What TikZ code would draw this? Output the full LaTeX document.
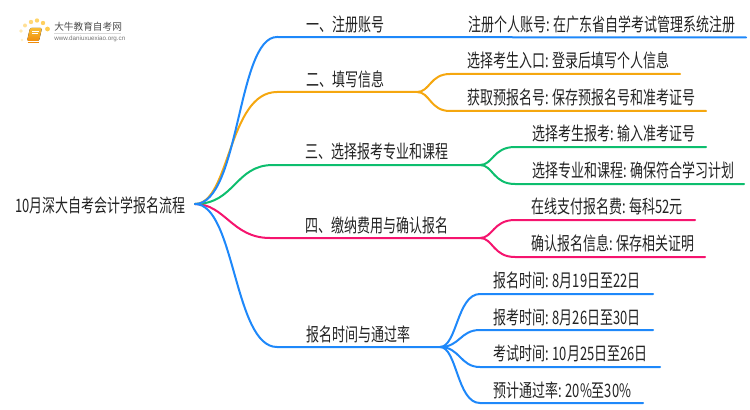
\documentclass[tikz,border=0pt]{standalone}
\usepackage{fontspec}
\setmainfont{Noto Sans CJK SC}
\newfontfamily\latinf{Liberation Sans}
\definecolor{cblue}{HTML}{1E88FA}
\definecolor{corange}{HTML}{F5A70F}
\definecolor{cgreen}{HTML}{0DBE6E}
\definecolor{cpink}{HTML}{F5146E}
\definecolor{ctext}{HTML}{222222}
\definecolor{booktop}{HTML}{F8BE35}
\definecolor{bookbot}{HTML}{F08C0A}
\newcommand{\squeezed}[1]{\scalebox{0.70}[1]{\fontsize{13.9pt}{16pt}\selectfont #1}}
\tikzset{
  lab/.style={anchor=west,inner sep=0pt,text=ctext},
  wire/.style={line width=1.5pt,line cap=round}
}
\begin{document}
\begin{tikzpicture}[x=0.75pt,y=-0.75pt]
\useasboundingbox (0,0) rectangle (750,410);
% logo
\foreach \px/\py/\rr/\c in {22/40/1.4/FFF0C8,21/31/1.8/FFE9B0,25/25.5/2/FFDF95,31/22/2.2/FFD878,37/20.5/2.2/FFD468,43/23/2.2/FFD060,47.5/29/2.4/FFCC50}{
  \definecolor{tmpc}{HTML}{\c}
  \fill[tmpc] (\px,\py) circle[radius=\rr*0.75pt];
}
\fill[rounded corners=1pt,top color=booktop,bottom color=bookbot] (30,28) -- (42,28) -- (39,41) -- (27,41) -- cycle;
\draw[bookbot,line width=0.5pt] (27.5,42) -- (38.5,42);
\draw[white,line width=0.5pt] (32,31) -- (38.5,31) (31.5,33.5) -- (38,33.5);
\node[anchor=west,inner sep=0pt,text=black!70] (logoa) at (54,27) {\scalebox{0.98}[1]{\fontsize{7.4pt}{9pt}\selectfont 大牛教育自考网}};
\draw[black!15,line width=0.4pt] (54,33.5) -- (121,33.5);
\node[anchor=west,inner sep=0pt,text=black!55] (logob) at (54,38.8) {\fontsize{4.7pt}{6pt}\selectfont\latinf www.daniuxuexiao.org.cn};
% texts
\node[lab] (root) at (15,205) {\squeezed{10月深大自考会计学报名流程}};
\node[lab] (t1) at (306,24) {\squeezed{一、注册账号}};
\node[lab] (t2) at (306,79) {\squeezed{二、填写信息}};
\node[lab] (t3) at (305,151) {\squeezed{三、选择报考专业和课程}};
\node[lab] (t4) at (305,225) {\squeezed{四、缴纳费用与确认报名}};
\node[lab] (t5) at (306,334) {\squeezed{报名时间与通过率}};
\node[lab] (a1) at (468,24) {\squeezed{注册个人账号: 在广东省自学考试管理系统注册}};
\node[lab] (b1) at (467,60) {\squeezed{选择考生入口: 登录后填写个人信息}};
\node[lab] (b2) at (467,97) {\squeezed{获取预报名号: 保存预报名号和准考证号}};
\node[lab] (c1) at (532,133) {\squeezed{选择考生报考: 输入准考证号}};
\node[lab] (c2) at (532,170) {\squeezed{选择专业和课程: 确保符合学习计划}};
\node[lab] (d1) at (531,206) {\squeezed{在线支付报名费: 每科52元}};
\node[lab] (d2) at (531,243) {\squeezed{确认报名信息: 保存相关证明}};
\node[lab] (e1) at (493,280) {\squeezed{报名时间: 8月19日至22日}};
\node[lab] (e2) at (493,317) {\squeezed{报考时间: 8月26日至30日}};
\node[lab] (e3) at (493,353) {\squeezed{考试时间: 10月25日至26日}};
\node[lab] (e4) at (493,390) {\squeezed{预计通过率: 20\%至30\%}};
% anchor coordinates
\coordinate (o) at (195,204);
\coordinate (k1) at (277,37);  \coordinate (k1e) at (746,37.5);
\coordinate (k2) at (277,92);  \coordinate (k2e) at (417,92);
\coordinate (k3) at (273,165); \coordinate (k3e) at (480,165);
\coordinate (k4) at (270,238); \coordinate (k4e) at (480,238);
\coordinate (k5) at (277,347); \coordinate (k5e) at (440,347);
\coordinate (b1s) at (450,74);  \coordinate (b1e) at (680,74);
\coordinate (b2s) at (450,111); \coordinate (b2e) at (706,111);
\coordinate (c1s) at (515,147); \coordinate (c1e) at (706,147);
\coordinate (c2s) at (515,184); \coordinate (c2e) at (744,184);
\coordinate (d1s) at (515,220); \coordinate (d1e) at (695,220);
\coordinate (d2s) at (515,257); \coordinate (d2e) at (705,257);
\coordinate (e1s) at (480,294); \coordinate (e1e) at (653,294);
\coordinate (e2s) at (480,330); \coordinate (e2e) at (653,330);
\coordinate (e3s) at (480,367); \coordinate (e3e) at (660,367);
\coordinate (e4s) at (480,403); \coordinate (e4e) at (643,403);
% connectors
\draw[wire,cpink] (o) .. controls (225,204) and (232,238) .. (k4) -- (k4e)
   .. controls (493,238) and (493,220) .. (d1s) -- (d1e);
\draw[wire,cpink] (k4e) .. controls (493,238) and (493,257) .. (d2s) -- (d2e);
\draw[wire,cgreen] (o) .. controls (235,204) and (235,165) .. (k3) -- (k3e)
   .. controls (493,165) and (493,147) .. (c1s) -- (c1e);
\draw[wire,cgreen] (k3e) .. controls (493,165) and (493,184) .. (c2s) -- (c2e);
\draw[wire,corange] (o) .. controls (230,204) and (228,92) .. (k2) -- (k2e)
   .. controls (430,92) and (430,74) .. (b1s) -- (b1e);
\draw[wire,corange] (k2e) .. controls (430,92) and (430,111) .. (b2s) -- (b2e);
\draw[wire,cblue] (o) .. controls (240,204) and (237,37) .. (k1) -- (k1e);
\draw[wire,cblue] (o) .. controls (235,204) and (234,347) .. (k5) -- (k5e);
\draw[wire,cblue] (k5e) .. controls (457,347) and (457,294) .. (e1s) -- (e1e);
\draw[wire,cblue] (k5e) .. controls (460,347) and (460,330) .. (e2s) -- (e2e);
\draw[wire,cblue] (k5e) .. controls (460,347) and (460,367) .. (e3s) -- (e3e);
\draw[wire,cblue] (k5e) .. controls (457,347) and (457,403) .. (e4s) -- (e4e);
\end{tikzpicture}
\end{document}
